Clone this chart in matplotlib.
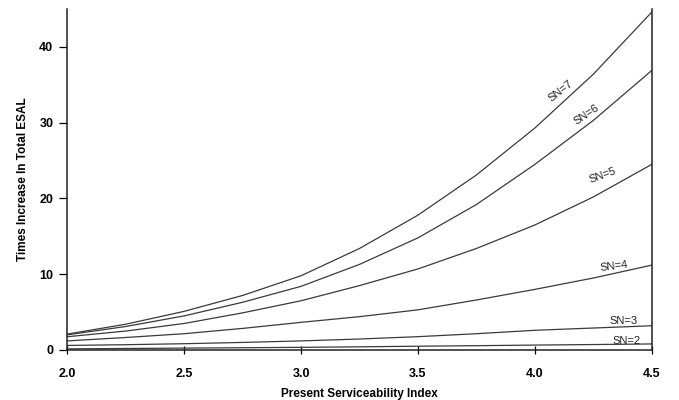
import matplotlib
matplotlib.use("Agg")
import matplotlib.pyplot as plt

psi = [2.0, 2.25, 2.5, 2.75, 3.0, 3.25, 3.5, 3.75, 4.0, 4.25, 4.5]
sn7 = [2.1, 3.4, 5.1, 7.2, 9.8, 13.4, 17.8, 23.1, 29.3, 36.4, 44.6]
sn6 = [2.0, 3.1, 4.5, 6.3, 8.4, 11.3, 14.8, 19.2, 24.5, 30.3, 36.9]
sn5 = [1.75, 2.5, 3.5, 4.9, 6.5, 8.5, 10.7, 13.4, 16.5, 20.2, 24.5]
sn4 = [1.2, 1.65, 2.15, 2.85, 3.65, 4.4, 5.3, 6.6, 8.0, 9.5, 11.2]
sn3 = [0.6, 0.7, 0.83, 1.0, 1.2, 1.45, 1.76, 2.15, 2.6, 2.9, 3.2]
sn2 = [0.15, 0.2, 0.25, 0.3, 0.35, 0.42, 0.5, 0.57, 0.65, 0.72, 0.8]

series = [sn7, sn6, sn5, sn4, sn3, sn2]
labels = ["SN=7", "SN=6", "SN=5", "SN=4", "SN=3", "SN=2"]
label_pos = [(4.11, 34.2, 38), (4.22, 31.0, 34), (4.29, 23.0, 20),
             (4.34, 11.1, 7), (4.38, 3.8, 0), (4.39, 1.25, 0)]

x_ticks = [2.0, 2.5, 3.0, 3.5, 4.0, 4.5]
y_ticks = [0, 10, 20, 30, 40]

plt.rcParams['font.family'] = ['Liberation Sans', 'DejaVu Sans']

fig = plt.figure(figsize=(6.79, 4.0), dpi=100)
ax = fig.add_axes([0.099, 0.125, 0.861, 0.8525])

for ys in series:
    ax.plot(psi, ys, color="#3a3a3a", lw=0.9)

for lab, (lx, ly, rot) in zip(labels, label_pos):
    ax.text(lx, ly, lab, fontsize=8, rotation=rot, ha="center", va="center",
            color="#222222", rotation_mode="anchor")

ax.set_xlim(2.0, 4.5)
ax.set_ylim(0, 45)
ax.set_xticks(x_ticks)
ax.set_xticklabels([f"{v:.1f}" for v in x_ticks], fontsize=9, fontweight="bold")
ax.set_yticks(y_ticks)
ax.set_yticklabels([str(v) for v in y_ticks], fontsize=9, fontweight="bold")
ax.tick_params(axis="x", direction="inout", length=6, width=0.9, pad=10)
ax.tick_params(axis="y", direction="out", length=6, width=0.9, pad=4)

ax.spines["top"].set_visible(False)
for s in ["left", "bottom", "right"]:
    ax.spines[s].set_linewidth(1.1)
    ax.spines[s].set_color("#222222")

ax.set_xlabel("Present Serviceability Index", fontsize=8.5, fontweight="bold", labelpad=6)
ax.set_ylabel("Times Increase In Total ESAL", fontsize=8.5, fontweight="bold", labelpad=7)

fig.savefig("out.png", dpi=100)
